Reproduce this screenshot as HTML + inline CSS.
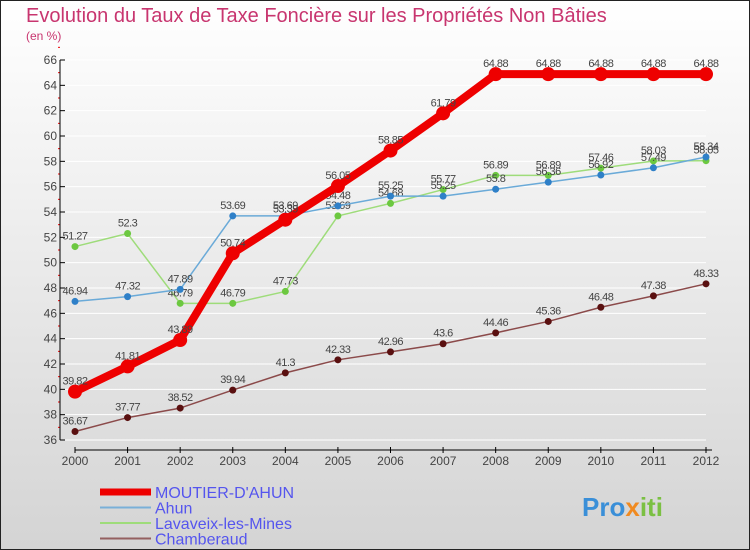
<!DOCTYPE html>
<html><head><meta charset="utf-8"><style>
body{margin:0;}
#wrap{width:750px;height:550px;position:relative;overflow:hidden;}
svg text{font-family:"Liberation Sans",sans-serif;}
</style></head><body>
<div id="wrap">
<svg id="chart" width="750" height="550">
<defs><linearGradient id="bg" x1="0" y1="0" x2="0" y2="1"><stop offset="0" stop-color="#ffffff"/><stop offset="1" stop-color="#d4d4d4"/></linearGradient></defs>
<rect x="0.5" y="0.5" width="749" height="549" fill="url(#bg)" stroke="#222"/>
<text x="26" y="22" font-size="20" fill="#c8356f">Evolution du Taux de Taxe Foncière sur les Propriétés Non Bâties</text>
<text x="26" y="40" font-size="12" fill="#c8356f">(en %)</text>
<g id="axes"></g><g id="series"></g><g id="legend"></g>
<g><text x="582" y="516" font-size="26" font-weight="bold" fill="#3a8fd8">Pro<tspan fill="#f08a20">x</tspan><tspan fill="#7bc043">iti</tspan></text></g>
</svg></div>
<script>
const years=["2000","2001","2002","2003","2004","2005","2006","2007","2008","2009","2010","2011","2012"];
const yTicks=[36,38,40,42,44,46,48,50,52,54,56,58,60,62,64,66];
const moutier=[39.82,41.81,43.89,50.74,53.39,56.05,58.85,61.79,64.88,64.88,64.88,64.88,64.88];
const ahun=[46.94,47.32,47.89,53.69,53.69,54.48,55.25,55.25,55.8,56.36,56.92,57.49,58.34];
const lavaveix=[51.27,52.3,46.79,46.79,47.73,53.69,54.68,55.77,56.89,56.89,57.46,58.03,58.05];
const chamberaud=[36.67,37.77,38.52,39.94,41.3,42.33,42.96,43.6,44.46,45.36,46.48,47.38,48.33];
const NS="http://www.w3.org/2000/svg";
function xs(i){return 75+i*(706-75)/(years.length-1);}
function ys(v){return 440-(v-36)*(380/30);}
function mk(tag,attrs,parent){const e=document.createElementNS(NS,tag);for(const k in attrs)e.setAttribute(k,attrs[k]);parent.appendChild(e);return e;}
const ax=document.getElementById('axes');
yTicks.forEach(t=>{
 const g=mk('line',{x1:60,x2:706,y1:ys(t),y2:ys(t),stroke:'#ffffff','stroke-width':1},ax);
 
 
 const tk=mk('line',{x1:60,x2:65,y1:ys(t),y2:ys(t),stroke:'#000'},ax);
 
 
 const r=mk('line',{x1:58,x2:60,y1:ys(t+1),y2:ys(t+1),stroke:'#e00'},ax);
 
 
 const l=mk('text',{x:57,y:ys(t)+4,'font-size':12,fill:'#444','text-anchor':'end'},ax);l.textContent=t;
 
 
});
const ya=mk('line',{x1:60,x2:60,y1:60,y2:440,stroke:'#000'},ax);


const xa=mk('line',{x1:75,x2:712,y1:450,y2:450,stroke:'#000'},ax);


years.forEach((y,i)=>{
 const tk=mk('line',{x1:xs(i),x2:xs(i),y1:447,y2:453,stroke:'#000'},ax);
 
 
 const l=mk('text',{x:xs(i),y:465,'font-size':12,fill:'#444','text-anchor':'middle'},ax);l.textContent=y;
 
 
});
const sg=document.getElementById('series');
const series=[
 {n:'chamberaud',d:chamberaud,c:'#8b4a4a',p:'#5a1010',w:1.5,r:3.5},
 {n:'lavaveix',d:lavaveix,c:'#9edc7a',p:'#6cc840',w:1.5,r:3.5},
 {n:'ahun',d:ahun,c:'#6aaad8',p:'#2f80c8',w:1.5,r:3.5},
 {n:'moutier',d:moutier,c:'#ee0000',p:'#ee0000',w:8,r:7}
];
series.forEach(s=>{
 const g=mk('g',{},sg);
 
 
 const pl=mk('polyline',{points:s.d.map((v,i)=>xs(i)+','+ys(v)).join(' '),fill:'none',stroke:s.c,'stroke-width':s.w,'stroke-linejoin':'round'},g);
 
 
 s.d.forEach((v,i)=>{
  const c=mk('circle',{cx:xs(i),cy:ys(v),r:s.r,fill:s.p},g);
  
  
  const t=mk('text',{x:xs(i),y:ys(v)-7,'font-size':11,fill:'#444','text-anchor':'middle','letter-spacing':'-0.5'},g);t.textContent=v;
  
  
 });
});
const lg=document.getElementById('legend');
const items=[['MOUTIER-D\'AHUN','#ee0000',7],['Ahun','#7ab0d8',2],['Lavaveix-les-Mines','#9edc7a',2],['Chamberaud','#946060',2]];
items.forEach((it,k)=>{
 const y=492+k*15.5;
 const g=mk('g',{},lg);
 
 
 mk('line',{x1:100,x2:151,y1:y,y2:y,stroke:it[1],'stroke-width':it[2]},g);
 const t=mk('text',{x:155,y:y+6,'font-size':16,fill:'#5555ee'},g);t.textContent=it[0];
});
</script>
</body></html>
